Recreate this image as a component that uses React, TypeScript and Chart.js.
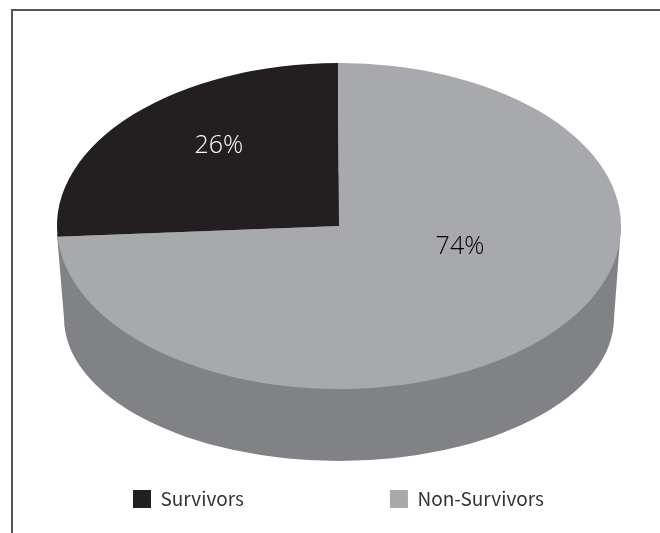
import React, { useEffect, useRef } from "react";
import { Chart, registerables } from "chart.js";

Chart.register(...registerables);

const categories = ["Survivors", "Non-Survivors"];
const shares = [26, 74];
const sliceLabels = ["26%", "74%"];
const sliceColors = ["#231F20", "#A7A9AC"];
const labelColors = ["#FFFFFF", "#000000"];
const labelOffsets = [[-0.426, -0.49], [0.429, 0.13]];
const sideColor = "#808285";
const frameColor = "#555555";
const stretch = 282 / 163;
const sideDrop = 92;
const sideRadiusX = 275 / 282;
const sideRadiusY = 143 / 163;
const legendFont = '"Noto Sans CJK SC", "Open Sans", sans-serif';
const labelFont = '"Open Sans", sans-serif';

const pie3d = {
  id: "pie3d",
  afterLayout(chart: any) {
    const l = chart.legend;
    const p = l.options.labels.padding;
    l.left = 133 - p;
    l.right = 1000;
    l.top = 489.5 - p;
    l.bottom = chart.height;
  },
  beforeDraw(chart: any) {
    const c = chart.ctx;
    c.save();
    c.fillStyle = frameColor;
    c.fillRect(11, 9, chart.width - 11, 2);
    c.fillRect(11, 9, 2, chart.height - 9);
    c.restore();
  },
  beforeDatasetsDraw(chart: any) {
    const c = chart.ctx;
    const arc = chart.getDatasetMeta(0).data[0];
    const { x, y, outerRadius: r } = arc;
    const rx = r * stretch;
    c.save();
    c.fillStyle = sideColor;
    c.beginPath();
    c.ellipse(x, y + sideDrop, rx * sideRadiusX, r * sideRadiusY, 0, 0, Math.PI * 2);
    c.fill();
    c.beginPath();
    c.moveTo(x - rx, y + 8);
    c.lineTo(x - rx * sideRadiusX, y + sideDrop);
    c.lineTo(x + rx * sideRadiusX, y + sideDrop);
    c.lineTo(x + rx, y);
    c.closePath();
    c.fill();
    c.translate(x, y);
    c.scale(stretch, 1);
    c.translate(-x, -y);
  },
  afterDatasetsDraw(chart: any) {
    const c = chart.ctx;
    c.restore();
    const arc = chart.getDatasetMeta(0).data[0];
    const { x, y, outerRadius: r } = arc;
    c.save();
    c.font = `300 25px ${labelFont}`;
    c.textAlign = "center";
    c.textBaseline = "middle";
    sliceLabels.forEach((t, i) => {
      c.fillStyle = labelColors[i];
      c.fillText(t, x + labelOffsets[i][0] * r * stretch, y + labelOffsets[i][1] * r);
    });
    c.restore();
  },
};

export default function App() {
  const ref = useRef<HTMLCanvasElement>(null);
  useEffect(() => {
    const chart = new Chart(ref.current!, {
      type: "pie",
      data: {
        labels: categories,
        datasets: [{ data: shares, backgroundColor: sliceColors, borderWidth: 0 }],
      },
      options: {
        responsive: false,
        animation: false,
        rotation: -93.8,
        layout: { padding: { left: 18, top: 63, right: 0, bottom: 104 } },
        plugins: {
          tooltip: { enabled: false },
          legend: {
            position: "bottom",
            align: "start",
            maxHeight: 40,
            labels: {
              boxWidth: 18,
              boxHeight: 18,
              padding: 146,
              color: "#333333",
              font: { family: legendFont, size: 19 },
            },
          },
        },
      },
      plugins: [pie3d],
    } as any);
    return () => chart.destroy();
  }, []);
  return (
    <canvas
      ref={ref}
      width={660}
      height={533}
      style={{ position: "fixed", left: 0, top: 0, display: "block" }}
    />
  );
}
